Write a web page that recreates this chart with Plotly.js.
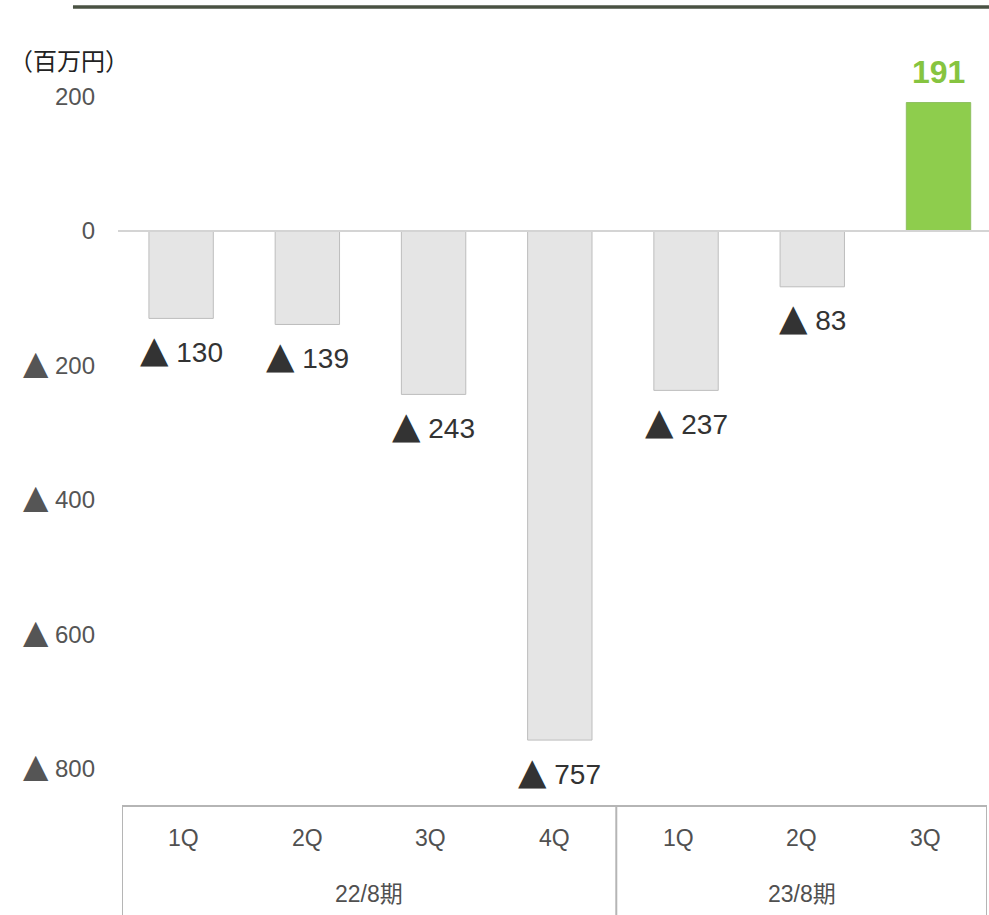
<!DOCTYPE html>
<html>
<head>
<meta charset="utf-8">
<script src="https://cdn.plot.ly/plotly-3.0.1.min.js"></script>
<style>
  html, body { margin: 0; padding: 0; background: #ffffff; }
  #chart { width: 989px; height: 915px; }
</style>
</head>
<body>
<div id="chart"></div>
<script>
// Quarterly operating profit (百万円); losses are shown with ▲
const quarters = ['1Q', '2Q', '3Q', '4Q', '1Q', '2Q', '3Q'];
const fiscalYears = ['22/8期', '23/8期'];
const quartersPerYear = [4, 3];
const profit = [-130, -139, -243, -757, -237, -83, 191];
const yTickValues = [200, 0, -200, -400, -600, -800];
const unitLabel = '（百万円）';

const FONT = '"Liberation Sans", Arial, "Noto Sans CJK JP", sans-serif';
const CJK = '"Noto Sans CJK JP", sans-serif';
// loss marker: a baseline-sitting triangle about as tall as the digits
const tri = size => '<span style="font-family:DejaVu Sans;font-size:' + size + 'px">▲</span>';
const fmt = (v, triSize) => (v < 0 ? tri(triSize) + '&nbsp;' + Math.abs(v) : String(v));

const idx = quarters.map((_, i) => i);

const bars = {
  type: 'bar',
  x: idx,
  y: profit,
  xaxis: 'x',
  yaxis: 'y',
  width: 0.51,
  marker: {
    color: profit.map(v => (v >= 0 ? '#8ecd4d' : '#e5e5e5')),
    line: { color: profit.map(v => (v >= 0 ? '#8fbf62' : '#bdbdbd')), width: 1 }
  },
  hoverinfo: 'skip'
};

// invisible trace that carries the table axis
const tableAxis = {
  type: 'scatter', mode: 'none', x: idx, y: idx.map(() => 0),
  xaxis: 'x2', yaxis: 'y', hoverinfo: 'skip', showlegend: false
};

const annotations = [];

// value labels
profit.forEach((v, i) => {
  annotations.push({
    x: i, y: v, xref: 'x', yref: 'y',
    text: v >= 0 ? '<b>' + fmt(v) + '</b>' : fmt(v, 37),
    showarrow: false,
    xanchor: 'center', yanchor: 'middle',
    yshift: v >= 0 ? 31 : -31,
    font: v >= 0
      ? { family: FONT, size: 32, color: '#86c440' }
      : { family: FONT, size: 28, color: '#333333' }
  });
});

// quarter row of the table
quarters.forEach((q, i) => {
  annotations.push({
    x: i, y: -0.05, xref: 'x2', yref: 'paper',
    text: q, showarrow: false, xanchor: 'center', yanchor: 'middle',
    font: { family: FONT, size: 23, color: '#505050' }
  });
});

// fiscal-year row of the table
const shapes = [];
let start = 0;
const edges = [-0.5];
fiscalYears.forEach((fy, k) => {
  const n = quartersPerYear[k];
  annotations.push({
    x: start + (n - 1) / 2, y: -0.1237, xref: 'x2', yref: 'paper',
    text: fy, showarrow: false, xanchor: 'center', yanchor: 'middle',
    font: { family: FONT, size: 23, color: '#505050' }
  });
  start += n;
  edges.push(start - 0.5);
});

// unit caption
annotations.push({
  x: -0.127, y: 0.9737, xref: 'paper', yref: 'paper',
  text: unitLabel, showarrow: false, xanchor: 'left', yanchor: 'middle',
  font: { family: CJK, size: 24, color: '#222222' }
});

// table frame
const tableTop = -0.0079, tableBottom = -0.16;
shapes.push({
  type: 'line', xref: 'x2', yref: 'paper',
  x0: -0.5, x1: quarters.length - 0.5, y0: tableTop, y1: tableTop,
  line: { color: '#b5b5b5', width: 2 }
});
edges.forEach(e => {
  shapes.push({
    type: 'line', xref: 'x2', yref: 'paper',
    x0: e, x1: e, y0: tableTop, y1: tableBottom,
    line: { color: '#b5b5b5', width: 2 }
  });
});

// header rule
shapes.push({
  type: 'line', xref: 'paper', yref: 'paper',
  x0: -0.0517, x1: 1.01, y0: 1.0434, y1: 1.0434,
  line: { color: '#4a5243', width: 3.5 }
});

const layout = {
  width: 989, height: 915,
  margin: { l: 118, r: 0, t: 40, b: 115 },
  paper_bgcolor: '#ffffff',
  plot_bgcolor: 'rgba(0,0,0,0)',
  showlegend: false,
  xaxis: {
    domain: [0, 1], range: [-0.5, 6.4],
    showgrid: false, zeroline: false, showticklabels: false, ticks: '', showline: false
  },
  xaxis2: {
    domain: [0.0046, 0.9977], range: [-0.5, 6.5], anchor: 'y',
    showgrid: false, zeroline: false, showticklabels: false, ticks: '', showline: false
  },
  yaxis: {
    range: [-846.1, 284.0],
    tickmode: 'array',
    tickvals: yTickValues,
    ticktext: yTickValues.map(v => fmt(v, 33)),
    tickfont: { family: FONT, size: 24, color: '#555555' },
    ticklabelstandoff: 22,
    showgrid: false, ticks: '', showline: false,
    zeroline: true, zerolinecolor: '#d4d4d4', zerolinewidth: 1.5
  },
  annotations: annotations,
  shapes: shapes
};

Plotly.newPlot('chart', [bars, tableAxis], layout, { staticPlot: true, displayModeBar: false });
</script>
</body>
</html>
